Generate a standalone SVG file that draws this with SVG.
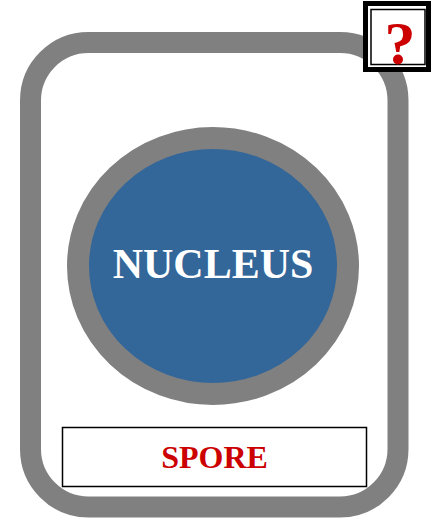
<svg xmlns="http://www.w3.org/2000/svg" width="434" height="519" viewBox="0 0 434 519">
<style>
.serif{font-family:"Liberation Serif","Times New Roman",serif;font-weight:bold;text-anchor:middle}
</style>
<rect width="434" height="519" fill="#ffffff"/>
<g id="cell">
<rect x="30.5" y="42.5" width="367.5" height="464.5" rx="58" ry="58" fill="#ffffff" stroke="#808080" stroke-width="21"/>
</g>
<g id="nucleus">
<ellipse cx="213" cy="266" rx="135" ry="128" fill="#336699" stroke="#808080" stroke-width="22"/>
<text class="serif" x="213" y="278" font-size="42" fill="#ffffff">NUCLEUS</text>
</g>
<g id="spore">
<rect x="62.5" y="427.5" width="304" height="59" fill="#ffffff" stroke="#000000" stroke-width="1.5"/>
<text class="serif" x="214.5" y="468" font-size="32" fill="#cc0000">SPORE</text>
</g>
<g id="help">
<rect x="365.5" y="3.5" width="63" height="66" fill="#ffffff" stroke="#000000" stroke-width="5"/>
<rect x="371" y="9.5" width="54" height="55" fill="none" stroke="#000000" stroke-width="1.5"/>
<text class="serif" x="400" y="64" font-size="62" fill="#cc0000">?</text>
</g>
<g id="connectors"/>
</svg>
